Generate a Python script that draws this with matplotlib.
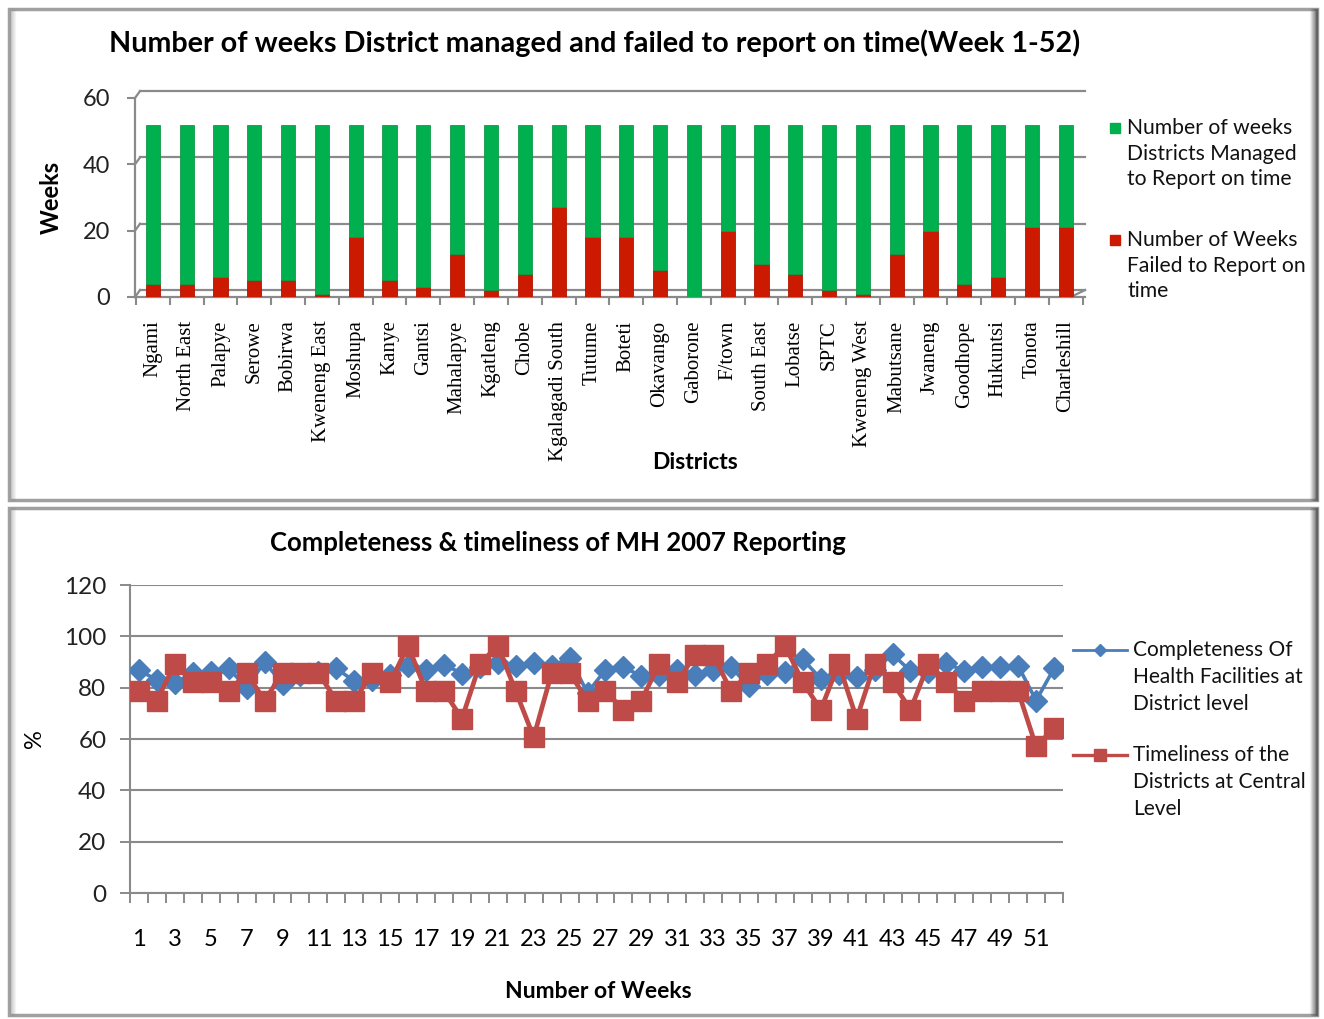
import numpy as np
import matplotlib.pyplot as plt
from matplotlib.patches import Rectangle

# Top chart: weeks per district
districts = ['Ngami', 'North East', 'Palapye', 'Serowe', 'Bobirwa', 'Kweneng East',
             'Moshupa', 'Kanye', 'Gantsi', 'Mahalapye', 'Kgatleng', 'Chobe',
             'Kgalagadi South', 'Tutume', 'Boteti', 'Okavango', 'Gaborone', 'F/town',
             'South East', 'Lobatse', 'SPTC', 'Kweneng West', 'Mabutsane', 'Jwaneng',
             'Goodhope', 'Hukuntsi', 'Tonota', 'Charleshill']
failed = [4, 4, 6, 5, 5, 1, 18, 5, 3, 13, 2, 7, 27, 18, 18, 8, 0, 20, 10, 7, 2, 1,
          13, 20, 4, 6, 21, 21]
total_weeks = 52
managed = [total_weeks - f for f in failed]

# Bottom chart: weekly completeness / timeliness (%)
weeks = list(range(1, 53))
completeness = [86.8, 83.0, 82.0, 85.7, 86.0, 87.5, 80.0, 90.0, 81.5, 85.0, 86.0, 87.5,
                82.5, 83.0, 85.0, 88.5, 87.0, 89.0, 85.5, 88.0, 89.5, 88.5, 89.5, 88.5,
                91.5, 78.0, 87.0, 88.0, 84.5, 85.0, 87.0, 85.0, 87.0, 88.0, 80.5, 85.5,
                86.0, 91.0, 83.5, 85.5, 84.0, 87.0, 93.0, 86.5, 86.0, 89.5, 86.5, 88.0,
                88.0, 88.5, 75.0, 87.5]
timeliness = [78.6, 75.0, 89.3, 82.1, 82.1, 78.6, 85.7, 75.0, 85.7, 85.7, 85.7, 75.0,
              75.0, 85.7, 82.1, 96.4, 78.6, 78.6, 67.9, 89.3, 96.4, 78.6, 60.7, 85.7,
              85.7, 75.0, 78.6, 71.4, 75.0, 89.3, 82.1, 92.9, 92.9, 78.6, 85.7, 89.3,
              96.4, 82.1, 71.4, 89.3, 67.9, 89.3, 82.1, 71.4, 89.3, 82.1, 75.0, 78.6,
              78.6, 78.6, 57.1, 64.3]

top_legend = [['Number of weeks', 'Districts Managed', 'to Report on time'],
              ['Number of Weeks', 'Failed to Report on', 'time']]
bottom_legend = [['Completeness Of', 'Health Facilities at', 'District level'],
                 ['Timeliness of the', 'Districts at Central', 'Level']]

W, H = 1324, 1019
SANS = ['Lato', 'DejaVu Sans']
SERIF = ['Liberation Serif', 'DejaVu Serif']
GRID = '#8a8a8a'
GREEN, RED = '#00b04f', '#cc1a00'
BLUE_L, RED_L = '#4a7ebb', '#be4b48'


def px(x0, y0, x1, y1):
    ''' pixel box (top-left origin) -> figure rect '''
    return [x0 / W, 1 - y1 / H, (x1 - x0) / W, (y1 - y0) / H]


def fx(x):
    return x / W


def fy(y):
    return 1 - y / H


def frame(fig, x0, y0, x1, y1):
    r = px(x0, y0, x1, y1)
    fig.patches.append(Rectangle((r[0], r[1]), r[2], r[3], transform=fig.transFigure,
                                 fill=False, edgecolor='#a0a0a0', lw=2.5, zorder=0))
    # right edge shadow
    for i, a in enumerate(np.linspace(0.75, 0.05, 8)):
        xx = (x1 - i) / W
        fig.add_artist(plt.Line2D([xx, xx], [r[1], r[1] + r[3]], transform=fig.transFigure,
                                  color='#505050', alpha=a, lw=1))
    # left edge light shadow
    for i, a in enumerate(np.linspace(0.35, 0.0, 6)):
        xx = (x0 + 2 + i) / W
        fig.add_artist(plt.Line2D([xx, xx], [r[1], r[1] + r[3]], transform=fig.transFigure,
                                  color='#909090', alpha=a, lw=1))


def legend_text(fig, lines, x, y, pitch, size):
    for i, s in enumerate(lines):
        fig.text(fx(x), fy(y + i * pitch), s, ha='left', va='center', fontsize=size,
                 family=SANS, color='#111111')


fig = plt.figure(figsize=(W / 100, H / 100), dpi=100)
fig.patch.set_facecolor('white')
frame(fig, 9, 9, 1317, 500)
frame(fig, 9, 508, 1317, 1015)

# ---------------- top chart ----------------
ax1 = fig.add_axes(px(135, 98, 1085, 297))
x = np.arange(len(districts))
ax1.set_xlim(-0.53, len(districts) - 0.43)
ax1.set_ylim(0, 60)
# back-wall gridlines (3D look)
for v in [0, 20, 40, 60]:
    ax1.plot([-0.38, len(districts) - 0.43], [v + 2.1, v + 2.1], color=GRID, lw=1.6,
             zorder=0, clip_on=False)
    ax1.plot([-0.53, -0.38], [v, v + 2.1], color=GRID, lw=1.6, zorder=0, clip_on=False)
ax1.plot([len(districts) - 0.43, len(districts) - 0.85], [2.1, 0], color=GRID, lw=1.6,
         clip_on=False)
ax1.bar(x, failed, width=0.42, color=RED, edgecolor='#b01500', lw=0.6, zorder=3)
ax1.bar(x, managed, width=0.42, bottom=failed, color=GREEN, edgecolor='#109a48', lw=0.6,
        zorder=3)
ax1.set_yticks([0, 20, 40, 60])
ax1.set_yticklabels(['0', '20', '40', '60'], fontsize=17, family=SANS, color='#222222')
ax1.set_xticks(x)
ax1.set_xticklabels(districts, rotation=90, fontsize=15, family=SERIF)
ax1.set_xticks(np.arange(-0.5, len(districts)), minor=True)
ax1.tick_params(axis='x', which='major', length=0, pad=17)
ax1.tick_params(axis='x', which='minor', length=6, color=GRID, width=1.5)
ax1.tick_params(axis='y', length=6, color=GRID, width=1.5, pad=12)
for s in ['top', 'right']:
    ax1.spines[s].set_visible(False)
for s in ['left', 'bottom']:
    ax1.spines[s].set_color(GRID)
    ax1.spines[s].set_linewidth(1.6)
ax1.set_ylabel('Weeks', fontsize=17, fontweight='bold', family=SANS, labelpad=14)
ax1.set_xlabel('Districts', fontsize=16.5, fontweight='bold', family=SANS)
ax1.xaxis.set_label_coords((695 - 135) / 950, -(463 - 297) / 199, transform=ax1.transAxes)
ax1.xaxis.label.set_va('center')
fig.text(595 / W, 1 - 43 / H,
         'Number of weeks District managed and failed to report on time(Week 1-52)',
         ha='center', va='center', fontsize=20.7, fontweight='bold', family=SANS)

# legend (handle aligned with first text line, as in Excel)
for lines, col, y0 in zip(top_legend, [GREEN, RED], [128, 240]):
    fig.add_artist(plt.Line2D([fx(1115)], [fy(y0)], marker='s', markersize=7.5,
                              color=col, transform=fig.transFigure))
    legend_text(fig, lines, 1127, y0, 25.7, 15.2)

# ---------------- bottom chart ----------------
ax2 = fig.add_axes(px(130, 585, 1063, 893))
ax2.set_xlim(0.5, len(weeks) + 0.5)
ax2.set_ylim(0, 120)
ax2.yaxis.grid(True, color=GRID, lw=1.5)
ax2.set_axisbelow(True)
ax2.plot(weeks, completeness, color=BLUE_L, lw=2.6, marker='D', markersize=11, zorder=3)
ax2.plot(weeks, timeliness, color=RED_L, lw=3.4, marker='s', markersize=14, zorder=4)
ax2.set_yticks(range(0, 121, 20))
ax2.set_yticklabels([str(v) for v in range(0, 121, 20)], fontsize=17.5, family=SANS,
                    color='#222222')
ax2.set_xticks(weeks[::2])
ax2.set_xticklabels([str(w) for w in weeks[::2]], fontsize=17, family=SANS)
ax2.set_xticks(np.arange(0.5, len(weeks) + 1), minor=True)
ax2.tick_params(axis='x', which='major', length=0, pad=26)
ax2.tick_params(axis='x', which='minor', length=7, color=GRID, width=1.4)
ax2.tick_params(axis='y', length=7, color=GRID, width=1.4, pad=10)
for s in ['top', 'right']:
    ax2.spines[s].set_visible(False)
for s in ['left', 'bottom']:
    ax2.spines[s].set_color(GRID)
    ax2.spines[s].set_linewidth(1.5)
ax2.set_ylabel('%', fontsize=17, family=SANS, labelpad=14)
ax2.set_xlabel('Number of Weeks', fontsize=16.5, fontweight='bold', family=SANS)
ax2.xaxis.set_label_coords((598 - 130) / 933, -(992 - 893) / 308, transform=ax2.transAxes)
ax2.xaxis.label.set_va('center')
fig.text(558 / W, 1 - 543 / H, 'Completeness & timeliness of MH 2007 Reporting',
         ha='center', va='center', fontsize=18.5, fontweight='bold', family=SANS)

for lines, col, mk, ms, lw, y0 in zip(bottom_legend, [BLUE_L, RED_L], ['D', 's'], [6.5, 8],
                                      [2.0, 2.4], [650, 755]):
    fig.add_artist(plt.Line2D([fx(1073), fx(1100), fx(1127)], [fy(y0)] * 3, color=col, lw=lw,
                              marker=mk, markersize=ms, markevery=[1],
                              transform=fig.transFigure))
    legend_text(fig, lines, 1133, y0, 27, 15)

fig.savefig('out.png', dpi=100)
